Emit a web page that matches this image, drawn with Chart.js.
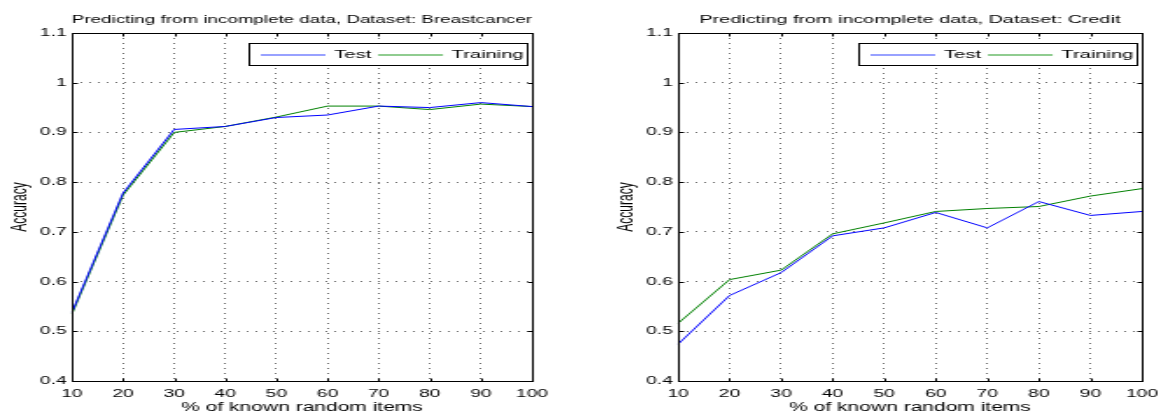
<!DOCTYPE html>
<html>
<head>
<meta charset="utf-8">
<script src="https://cdn.jsdelivr.net/npm/chart.js@4"></script>
<style>
  html, body { margin: 0; padding: 0; background: #fff; }
  #wrap { position: relative; width: 1161px; height: 415px; overflow: hidden; background: #fff; }
  canvas { position: absolute; top: 0; }
</style>
</head>
<body>
<div id="wrap">
  <canvas id="c1" width="332" height="415" style="left:0px;width:581px;height:415px"></canvas>
  <canvas id="c2" width="332" height="415" style="left:580px;width:581px;height:415px"></canvas>
</div>
<script>
// ---- data ----
const xLabels = ['10','20','30','40','50','60','70','80','90','100'];
const yTicks = [0.4, 0.5, 0.6, 0.7, 0.8, 0.9, 1.0, 1.1];
const yTickLabels = ['0.4','0.5','0.6','0.7','0.8','0.9','1','1.1'];
const seriesNames = ['Test', 'Training'];
const seriesColors = ['#0000ff', '#008000'];
const legendColors = ['#3344ff', '#229922'];
const chartTitles = ['Predicting from incomplete data, Dataset: Breastcancer',
                     'Predicting from incomplete data, Dataset: Credit'];
const xTitle = '% of known random items';
const yTitle = 'Accuracy';
const breastTest     = [0.538, 0.778, 0.906, 0.912, 0.930, 0.935, 0.953, 0.950, 0.960, 0.952];
const breastTraining = [0.535, 0.774, 0.900, 0.912, 0.931, 0.953, 0.953, 0.946, 0.957, 0.952];
const creditTest     = [0.474, 0.572, 0.618, 0.692, 0.708, 0.739, 0.708, 0.761, 0.733, 0.741];
const creditTraining = [0.516, 0.604, 0.623, 0.696, 0.718, 0.741, 0.747, 0.751, 0.772, 0.787];

const FONT = '"Liberation Sans", Arial, Helvetica, sans-serif';

const framePlugin = {
  id: 'frame',
  afterDatasetsDraw(chart) {
    const { ctx, chartArea: a, scales: { x, y } } = chart;
    ctx.save();
    ctx.setLineDash([]);
    ctx.strokeStyle = '#000';
    ctx.lineWidth = 1;
    const L = Math.round(a.left) + 0.5, T = Math.round(a.top) + 0.5;
    const R = Math.round(a.right) + 0.5, B = Math.round(a.bottom) + 0.5;
    ctx.strokeRect(L, T, R - L, B - T);
    ctx.beginPath();
    x.ticks.forEach((t, i) => {
      const px = Math.round(x.getPixelForTick(i)) + 0.5;
      ctx.moveTo(px, T); ctx.lineTo(px, T + 3);
      ctx.moveTo(px, B); ctx.lineTo(px, B - 3);
    });
    y.ticks.forEach((t, i) => {
      const py = Math.round(y.getPixelForTick(i)) + 0.5;
      ctx.moveTo(L, py); ctx.lineTo(L + 3, py);
      ctx.moveTo(R, py); ctx.lineTo(R - 3, py);
    });
    ctx.stroke();

    // legend box (top-right, inside plot)
    const ds = chart.data.datasets;
    ctx.font = '11.5px ' + FONT;
    const padL = 7, lineLen = 37, gap1 = 5, gap2 = 4, padR = 2, h = 22;
    let w = padL;
    ds.forEach((d, i) => {
      w += lineLen + gap1 + ctx.measureText(d.label).width + (i < ds.length - 1 ? gap2 : padR);
    });
    const right = a.right - 3, top = Math.round(a.top + 10);
    const left = Math.round(right - w);
    ctx.fillStyle = '#fff';
    ctx.fillRect(left, top, Math.round(w), h);
    ctx.strokeStyle = '#000';
    ctx.strokeRect(left + 0.5, top + 0.5, Math.round(w), h);
    let cx = left + padL;
    const cy = top + h / 2 + 0.5;
    ds.forEach((d, i) => {
      ctx.save();
      ctx.beginPath();
      ctx.strokeStyle = legendColors[i];
      ctx.lineWidth = 1.2;
      ctx.moveTo(cx, Math.round(cy));
      ctx.lineTo(cx + lineLen, Math.round(cy));
      ctx.stroke();
      ctx.restore();
      cx += lineLen + gap1;
      ctx.fillStyle = '#000';
      ctx.textBaseline = 'middle';
      ctx.textAlign = 'left';
      ctx.fillText(d.label, cx, cy + 0.5);
      cx += ctx.measureText(d.label).width + gap2;
    });
    ctx.restore();
  }
};

function makeChart(id, title, testData, trainData, axisWidth, padRight, yTitlePad) {
  return new Chart(document.getElementById(id), {
    type: 'line',
    data: {
      labels: xLabels,
      datasets: [
        { label: seriesNames[0], data: testData, borderColor: seriesColors[0], borderWidth: 1,
          pointRadius: 0, tension: 0, fill: false },
        { label: seriesNames[1], data: trainData, borderColor: seriesColors[1], borderWidth: 1,
          pointRadius: 0, tension: 0, fill: false }
      ]
    },
    options: {
      responsive: false,
      animation: false,
      devicePixelRatio: 1,
      layout: { padding: { left: 0, right: padRight, top: 0, bottom: 0 } },
      plugins: {
        legend: { display: false },
        tooltip: { enabled: false },
        title: {
          display: true, text: title, color: '#000', fullSize: false,
          font: { family: FONT, size: 11.3, weight: 'normal', lineHeight: 1.2 },
          padding: { top: 13, bottom: 6.44 }
        }
      },
      scales: {
        x: {
          type: 'category', offset: false,
          grid: { color: 'rgba(0,0,0,0.6)', lineWidth: 1, drawTicks: false },
          border: { display: false, dash: [1, 4] },
          ticks: { color: '#000', font: { family: FONT, size: 11 }, padding: 6,
                   maxRotation: 0, autoSkip: false },
          title: { display: true, text: xTitle, color: '#000',
                   font: { family: FONT, size: 12 }, padding: { top: 0, bottom: 0 } },
          afterFit(s) { s.height = 34; s.paddingLeft = 0; s.paddingRight = 0; }
        },
        y: {
          type: 'linear', min: 0.4, max: 1.1,
          afterBuildTicks(s) { s.ticks = yTicks.map(v => ({ value: v })); },
          grid: { color: 'rgba(0,0,0,0.6)', lineWidth: 1, drawTicks: false },
          border: { display: false, dash: [1, 4] },
          ticks: { color: '#000', font: { family: FONT, size: 11 }, padding: 3,
                   callback: (v, i) => yTickLabels[i] },
          title: { display: true, text: yTitle, color: '#000',
                   font: { family: FONT, size: 12 }, padding: { top: yTitlePad, bottom: 0 } },
          afterFit(s) { s.width = axisWidth; s.paddingTop = 0; s.paddingBottom = 0; }
        }
      }
    },
    plugins: [framePlugin]
  });
}

makeChart('c1', chartTitles[0], breastTest, breastTraining, 41.1, 28.0, 4.5);
makeChart('c2', chartTitles[1], creditTest, creditTraining, 56.0, 10.9, 19.9);
</script>
</body>
</html>
